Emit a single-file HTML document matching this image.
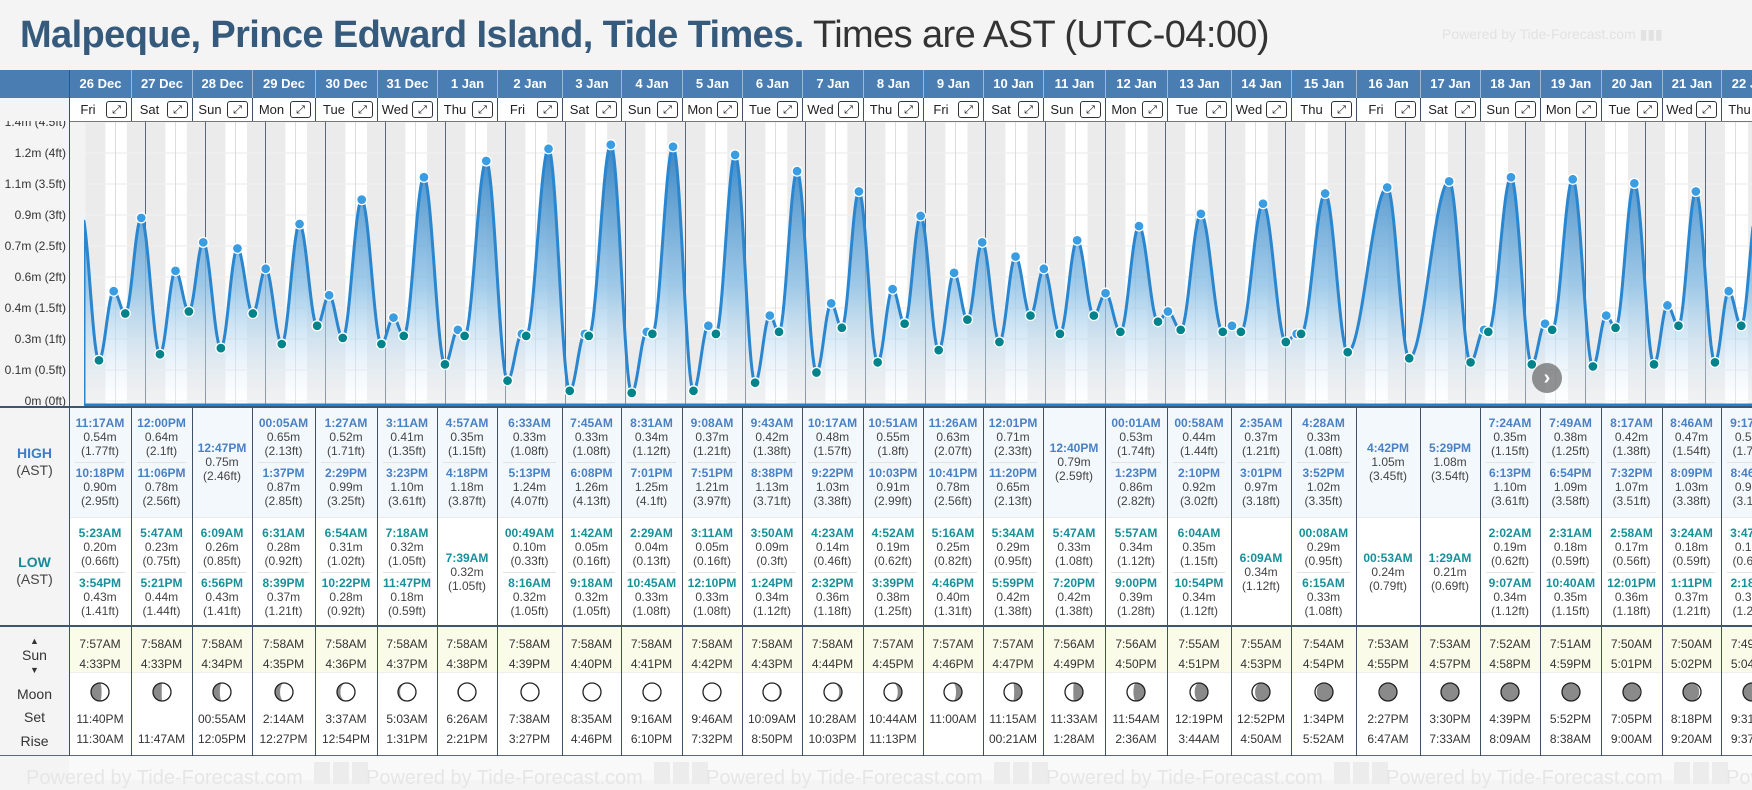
<!DOCTYPE html>
<html><head><meta charset="utf-8">
<style>
html,body{margin:0;padding:0;}
body{width:1752px;height:780px;overflow:hidden;background:#f4f4f4;font-family:"Liberation Sans",sans-serif;position:relative;}
.abs{position:absolute;}
.title{left:20px;top:14px;font-size:38px;white-space:nowrap;letter-spacing:-0.6px;}
.title b{color:#355a7c;}
.title span{color:#333;}
.cell{position:absolute;text-align:center;white-space:nowrap;}
.t{font-size:12px;font-weight:bold;line-height:14px;}
.v{font-size:12px;color:#444;line-height:14px;}
.hi{color:#4a80c4;}
.lo{color:#17909a;}
.sep{position:absolute;background:#3f5166;width:1px;}
</style></head>
<body>
<div class="abs title"><b>Malpeque, Prince Edward Island, Tide Times.</b> <span>Times are AST (UTC-04:00)</span></div>
<div class="abs" style="left:1442px;top:26px;font-size:14px;color:#e2e2e2;">Powered by Tide-Forecast.com ▮▮▮</div>
<svg id="chart" class="abs" style="left:0;top:0;" width="1752" height="410" viewBox="0 0 1752 410"></svg>
<div id="grid" class="abs" style="left:0;top:0;width:1752px;height:780px;"></div>
<script>
const days=['26 Dec','27 Dec','28 Dec','29 Dec','30 Dec','31 Dec','1 Jan','2 Jan','3 Jan','4 Jan','5 Jan','6 Jan','7 Jan','8 Jan','9 Jan','10 Jan','11 Jan','12 Jan','13 Jan','14 Jan','15 Jan','16 Jan','17 Jan','18 Jan','19 Jan','20 Jan','21 Jan','22 Jan'];
const dayNames=['Fri','Sat','Sun','Mon','Tue','Wed','Thu','Fri','Sat','Sun','Mon','Tue','Wed','Thu','Fri','Sat','Sun','Mon','Tue','Wed','Thu','Fri','Sat','Sun','Mon','Tue','Wed','Thu'];
const tideDay=[-1,0,0,0,0,1,1,1,1,2,2,2,3,3,3,3,4,4,4,4,5,5,5,5,6,6,6,7,7,7,7,8,8,8,8,9,9,9,9,10,10,10,10,11,11,11,11,12,12,12,12,13,13,13,13,14,14,14,14,15,15,15,15,16,16,16,17,17,17,17,18,18,18,18,19,19,19,20,20,20,20,21,21,22,22,23,23,23,23,24,24,24,24,25,25,25,25,26,26,26,26,27,27,27,27];
const tideTime=['10:15PM','5:23AM','11:17AM','3:54PM','10:18PM','5:47AM','12:00PM','5:21PM','11:06PM','6:09AM','12:47PM','6:56PM','00:05AM','6:31AM','1:37PM','8:39PM','1:27AM','6:54AM','2:29PM','10:22PM','3:11AM','7:18AM','3:23PM','11:47PM','4:57AM','7:39AM','4:18PM','00:49AM','6:33AM','8:16AM','5:13PM','1:42AM','7:45AM','9:18AM','6:08PM','2:29AM','8:31AM','10:45AM','7:01PM','3:11AM','9:08AM','12:10PM','7:51PM','3:50AM','9:43AM','1:24PM','8:38PM','4:23AM','10:17AM','2:32PM','9:22PM','4:52AM','10:51AM','3:39PM','10:03PM','5:16AM','11:26AM','4:46PM','10:41PM','5:34AM','12:01PM','5:59PM','11:20PM','5:47AM','12:40PM','7:20PM','00:01AM','5:57AM','1:23PM','9:00PM','00:58AM','6:04AM','2:10PM','10:54PM','2:35AM','6:09AM','3:01PM','00:08AM','4:28AM','6:15AM','3:52PM','00:53AM','4:42PM','1:29AM','5:29PM','2:02AM','7:24AM','9:07AM','6:13PM','2:31AM','7:49AM','10:40AM','6:54PM','2:58AM','8:17AM','12:01PM','7:32PM','3:24AM','8:46AM','1:11PM','8:09PM','3:47AM','9:17AM','2:18PM','8:46PM'];
const tideMeters=[0.93,0.20,0.54,0.43,0.90,0.23,0.64,0.44,0.78,0.26,0.75,0.43,0.65,0.28,0.87,0.37,0.52,0.31,0.99,0.28,0.41,0.32,1.10,0.18,0.35,0.32,1.18,0.10,0.33,0.32,1.24,0.05,0.33,0.32,1.26,0.04,0.34,0.33,1.25,0.05,0.37,0.33,1.21,0.09,0.42,0.34,1.13,0.14,0.48,0.36,1.03,0.19,0.55,0.38,0.91,0.25,0.63,0.40,0.78,0.29,0.71,0.42,0.65,0.33,0.79,0.42,0.53,0.34,0.86,0.39,0.44,0.35,0.92,0.34,0.37,0.34,0.97,0.29,0.33,0.33,1.02,0.24,1.05,0.21,1.08,0.19,0.35,0.34,1.10,0.18,0.38,0.35,1.09,0.17,0.42,0.36,1.07,0.18,0.47,0.37,1.03,0.19,0.54,0.37,0.96];
const tideFeet=[3.05,0.66,1.77,1.41,2.95,0.75,2.1,1.44,2.56,0.85,2.46,1.41,2.13,0.92,2.85,1.21,1.71,1.02,3.25,0.92,1.35,1.05,3.61,0.59,1.15,1.05,3.87,0.33,1.08,1.05,4.07,0.16,1.08,1.05,4.13,0.13,1.12,1.08,4.1,0.16,1.21,1.08,3.97,0.3,1.38,1.12,3.71,0.46,1.57,1.18,3.38,0.62,1.8,1.25,2.99,0.82,2.07,1.31,2.56,0.95,2.33,1.38,2.13,1.08,2.59,1.38,1.74,1.12,2.82,1.28,1.44,1.15,3.02,1.12,1.21,1.12,3.18,0.95,1.08,1.08,3.35,0.79,3.45,0.69,3.54,0.62,1.15,1.12,3.61,0.59,1.25,1.15,3.58,0.56,1.38,1.18,3.51,0.59,1.54,1.21,3.38,0.62,1.77,1.21,3.15];
const tideType=['H','L','H','L','H','L','H','L','H','L','H','L','H','L','H','L','H','L','H','L','H','L','H','L','H','L','H','L','H','L','H','L','H','L','H','L','H','L','H','L','H','L','H','L','H','L','H','L','H','L','H','L','H','L','H','L','H','L','H','L','H','L','H','L','H','L','H','L','H','L','H','L','H','L','H','L','H','L','H','L','H','L','H','L','H','L','H','L','H','L','H','L','H','L','H','L','H','L','H','L','H','L','H','L','H'];
const sunrise=['7:57AM','7:58AM','7:58AM','7:58AM','7:58AM','7:58AM','7:58AM','7:58AM','7:58AM','7:58AM','7:58AM','7:58AM','7:58AM','7:57AM','7:57AM','7:57AM','7:56AM','7:56AM','7:55AM','7:55AM','7:54AM','7:53AM','7:53AM','7:52AM','7:51AM','7:50AM','7:50AM','7:49AM'];
const sunset=['4:33PM','4:33PM','4:34PM','4:35PM','4:36PM','4:37PM','4:38PM','4:39PM','4:40PM','4:41PM','4:42PM','4:43PM','4:44PM','4:45PM','4:46PM','4:47PM','4:49PM','4:50PM','4:51PM','4:53PM','4:54PM','4:55PM','4:57PM','4:58PM','4:59PM','5:01PM','5:02PM','5:04PM'];
const moonSet=['11:40PM','','00:55AM','2:14AM','3:37AM','5:03AM','6:26AM','7:38AM','8:35AM','9:16AM','9:46AM','10:09AM','10:28AM','10:44AM','11:00AM','11:15AM','11:33AM','11:54AM','12:19PM','12:52PM','1:34PM','2:27PM','3:30PM','4:39PM','5:52PM','7:05PM','8:18PM','9:31PM'];
const moonRise=['11:30AM','11:47AM','12:05PM','12:27PM','12:54PM','1:31PM','2:21PM','3:27PM','4:46PM','6:10PM','7:32PM','8:50PM','10:03PM','11:13PM','','00:21AM','1:28AM','2:36AM','3:44AM','4:50AM','5:52AM','6:47AM','7:33AM','8:09AM','8:38AM','9:00AM','9:20AM','9:37AM'];
const yTicks=[0,0.5,1,1.5,2,2.5,3,3.5,4,4.5];
const yTickLabels=['0m (0ft)','0.1m (0.5ft)','0.3m (1ft)','0.4m (1.5ft)','0.6m (2ft)','0.7m (2.5ft)','0.9m (3ft)','1.1m (3.5ft)','1.2m (4ft)','1.4m (4.5ft)'];

// layout (not data)
const colB=[69,131,192,252,315,377,437,497,562,621,682,742,802,863,923,983,1043,1105,1167,1231,1291,1356,1420,1480,1540,1601,1662,1721,1782];
const X0=85.5, PXDAY=60, Y0=401, PXFT=62, PLOT_TOP=121, PLOT_BOT=405;
function hrs(s){const m=s.match(/(\d+):(\d+)(AM|PM)/);let h=+m[1]%12;if(m[3]==='PM')h+=12;return h+ +m[2]/60;}
function xOf(d){return X0+d*PXDAY;}
function yOfFt(f){return Y0-f*PXFT;}
function yOfM(m){return yOfFt(m/0.3048);}
const NS='http://www.w3.org/2000/svg';
const svg=document.getElementById('chart');
function mk(tag,attrs,parent){const e=document.createElementNS(NS,tag);for(const k in attrs)e.setAttribute(k,attrs[k]);(parent||svg).appendChild(e);return e;}

// defs
const defs=mk('defs',{});
const lg=mk('linearGradient',{id:'fillg',x1:0,y1:PLOT_TOP+20,x2:0,y2:PLOT_BOT,gradientUnits:'userSpaceOnUse'},defs);
mk('stop',{offset:'0','stop-color':'#2f7fc0','stop-opacity':'0.95'},lg);
mk('stop',{offset:'0.55','stop-color':'#8cc0e6','stop-opacity':'0.8'},lg);
mk('stop',{offset:'1','stop-color':'#ffffff','stop-opacity':'0.3'},lg);
const cp=mk('clipPath',{id:'plotclip'},defs);
mk('rect',{x:84,y:PLOT_TOP,width:1752-84,height:PLOT_BOT-PLOT_TOP},cp);

// plot background
const bg=mk('rect',{x:69,y:PLOT_TOP,width:1683,height:PLOT_BOT-PLOT_TOP+2,fill:'#f3f3f3'});


const night=mk('rect',{x:X0,y:PLOT_TOP,width:1752-X0,height:PLOT_BOT-PLOT_TOP,fill:'#ebebeb'});


for(let i=0;i<days.length;i++){
  const a=xOf(i+hrs(sunrise[i])/24), b=xOf(i+hrs(sunset[i])/24);
  const r=mk('rect',{x:a,y:PLOT_TOP,width:b-a,height:PLOT_BOT-PLOT_TOP,fill:'#ffffff'});
  
  
}
// horizontal grid
yTicks.forEach((f,i)=>{
  const y=yOfFt(f);
  if(y>PLOT_TOP){const l=mk('line',{x1:X0,x2:1752,y1:y,y2:y,stroke:'#f0f0f0','stroke-width':1.5});
  
  }
  const t=mk('text',{x:66,y:y+4,'text-anchor':'end','font-size':12,fill:'#333','font-family':'Liberation Sans, sans-serif'});
  t.textContent=yTickLabels[i];
  
  
});
// noon + midnight lines
for(let i=0;i<days.length;i++){
  const xn=xOf(i+0.5);
  if(xn<1752){const l=mk('line',{x1:xn,x2:xn,y1:PLOT_TOP,y2:PLOT_BOT,stroke:'#dcdcdc','stroke-width':1});
  
  }
  if(i>0){const xm=xOf(i);const l2=mk('line',{x1:xm,x2:xm,y1:PLOT_TOP,y2:PLOT_BOT,stroke:'#5a6878','stroke-width':1});
  
  }
}
// curve
const ev=tideTime.map((s,i)=>({t:tideDay[i]+hrs(s)/24,m:tideMeters[i],type:tideType[i],i}));
function hAt(t){
  for(let k=0;k<ev.length-1;k++){
    if(t>=ev[k].t&&t<=ev[k+1].t){const f=(t-ev[k].t)/(ev[k+1].t-ev[k].t);return ev[k].m+(ev[k+1].m-ev[k].m)*(1-Math.cos(Math.PI*f))/2;}
  }
  return ev[ev.length-1].m;
}
let pts=[];
for(let x=84;x<=1753;x+=1){const t=(x-X0)/PXDAY;pts.push([x,yOfM(hAt(t))]);}
const g=mk('g',{'clip-path':'url(#plotclip)'});
let dA='M84,'+PLOT_BOT+' '+pts.map(p=>'L'+p[0]+','+p[1].toFixed(1)).join(' ')+' L1753,'+PLOT_BOT+'Z';
const area=mk('path',{d:dA,fill:'url(#fillg)'},g);


const line=mk('path',{d:'M84,'+PLOT_BOT+' '+pts.map(p=>'L'+p[0]+','+p[1].toFixed(1)).join(' '),fill:'none',stroke:'#2a86cf','stroke-width':3,'stroke-linejoin':'round'},g);


ev.forEach(e=>{
  const x=xOf(e.t);if(x<84||x>1752)return;
  const c=mk('circle',{cx:x,cy:yOfM(e.m),r:5,fill:e.type==='H'?'#3a9de2':'#00838a',stroke:'#fff','stroke-width':1.3},g);
  
  
});
const base=mk('line',{x1:84,x2:1752,y1:PLOT_BOT,y2:PLOT_BOT,stroke:'#2d7dc3','stroke-width':3});


mk('line',{x1:69,x2:1752,y1:PLOT_TOP+0.5,y2:PLOT_TOP+0.5,stroke:'#777','stroke-width':1});

// ===== grid / table =====
const G=document.getElementById('grid');
function div(css,html,name,inter){const d=document.createElement('div');d.style.cssText='position:absolute;'+css;if(html!=null)d.innerHTML=html;


G.appendChild(d);return d;}
div('left:0;top:70px;width:1752px;height:28px;background:#4a7eb3;',null,'date-header-bar',false);
div('left:0;top:98px;width:1752px;height:23px;background:#fff;',null,'day-name-row',false);
div('left:0;top:98px;width:69px;height:23px;background:#f4f4f4;',null,'corner-cell',false);
div('left:0;top:408px;width:1752px;height:109px;background:#f3f8fd;',null,'high-row',false);
div('left:0;top:517px;width:1752px;height:109px;background:#fff;border-top:1px solid #eaeaea;',null,'low-row',false);
div('left:0;top:627px;width:1752px;height:45px;background:#fbfbea;',null,'sun-row',false);
div('left:0;top:672px;width:1752px;height:84px;background:#fff;border-top:1px solid #eee;',null,'moon-row',false);
div('left:0;top:756px;width:1752px;height:24px;background:#f9f9f9;',null,'footer',false);
div('left:0;top:408px;width:69px;height:348px;background:#f4f4f4;',null,'row-label-column',false);
div('left:0;top:756px;width:69px;height:24px;background:#f4f4f4;',null,'footer-left',false);
for(let k=0;k<6;k++){div('left:'+(26+k*340)+'px;top:762px;font-size:20px;color:#e6e6e6;white-space:nowrap;','Powered by Tide-Forecast.com <span style="display:inline-block;width:16px;height:22px;background:#ececec;margin-left:6px"></span><span style="display:inline-block;width:16px;height:22px;background:#ececec;margin-left:3px"></span><span style="display:inline-block;width:16px;height:22px;background:#ececec;margin-left:3px"></span>','footer-watermark',false);}
// horizontal separators
div('left:0;top:406px;width:1752px;height:2px;background:#3d5670;',null,'chart-table-divider',false);
div('left:0;top:625px;width:1752px;height:2px;background:#3d5670;',null,'tide-sun-divider',false);
div('left:0;top:755px;width:1752px;height:1px;background:#5a6a7a;',null,'table-bottom-border',false);
// row labels
div('left:0;top:445px;width:69px;text-align:center;font-size:14px;line-height:17px;','<b style="color:#3d7cc9">HIGH</b><br><span style="color:#444">(AST)</span>','high-label',false);
div('left:0;top:554px;width:69px;text-align:center;font-size:14px;line-height:17px;','<b style="color:#178a99">LOW</b><br><span style="color:#444">(AST)</span>','low-label',false);
div('left:0;top:634px;width:69px;text-align:center;font-size:14px;line-height:11px;color:#333;','<span style="font-size:9px">▲</span><br><span style="line-height:16px">Sun</span><br><span style="font-size:9px">▼</span>','sun-label',false);
div('left:0;top:684px;width:69px;text-align:center;font-size:14px;line-height:20px;color:#333;','Moon<br><span style="line-height:27px">Set</span><br>Rise','moon-label',false);

function moonSVG(i){
  const P=29.53, age=((i-23)%P+P)%P, th=2*Math.PI*age/P, r=9, rx=(r*Math.abs(Math.cos(th))).toFixed(2);
  let d;
  if(age<P/2){const sw=Math.cos(th)>0?0:1;d=`M0,${-r} A${r},${r} 0 0 0 0,${r} A${rx},${r} 0 0 ${sw} 0,${-r}Z`;}
  else{const sw=Math.cos(th)>0?1:0;d=`M0,${-r} A${r},${r} 0 0 1 0,${r} A${rx},${r} 0 0 ${sw} 0,${-r}Z`;}
  return `<svg width="24" height="24" viewBox="-12 -12 24 24"><circle r="${r}" fill="#fff"/><path d="${d}" fill="#8a8a8a"/><circle r="${r}" fill="none" stroke="#222" stroke-width="1.3"/></svg>`;
}
function entry(e){
  const cls=e.type==='H'?'hi':'lo';
  return `<div class="t ${cls}">${tideTime[e.i]}</div><div class="v">${tideMeters[e.i].toFixed(2)}m</div><div class="v">(${tideFeet[e.i]}ft)</div>`;
}
for(let i=0;i<days.length;i++){
  const L=colB[i], W=colB[i+1]-colB[i];
  div('left:'+L+'px;top:70px;width:'+W+'px;height:28px;line-height:28px;text-align:center;color:#fff;font-weight:bold;font-size:13px;border-left:1px solid #9bb8d6;box-sizing:border-box;',days[i],'date-header',false);
  div('left:'+L+'px;top:98px;width:'+W+'px;height:23px;line-height:23px;font-size:13px;color:#222;box-sizing:border-box;border-left:1px solid #3f5166;',
    '<span style="position:absolute;left:0;width:'+(W-26)+'px;text-align:center">'+dayNames[i]+'</span>','day-name',false);
  const b=div('left:'+(L+W-25)+'px;top:101px;width:19px;height:15px;border:1px solid #333;border-radius:3px;background:#fff;font-size:11px;line-height:15px;text-align:center;font-family:DejaVu Sans,sans-serif;color:#111;','⤢','expand-day-button',true);
  const cs=div('left:'+L+'px;top:408px;width:1px;height:348px;background:#3f5166;',null,'column-separator',false);
  const highs=ev.filter(e=>e.type==='H'&&tideDay[e.i]===i), lows=ev.filter(e=>e.type==='L'&&tideDay[e.i]===i);
  [[highs,408],[lows,518]].forEach(([arr,top])=>{
    if(arr.length===1){div('left:'+L+'px;top:'+(top+33)+'px;width:'+W+'px;',entry(arr[0]),arr[0].type==='H'?'high-tide-entry':'low-tide-entry',false).className='cell';}
    else if(arr.length>=2){
      div('left:'+L+'px;top:'+(top+8)+'px;width:'+W+'px;',entry(arr[0]),arr[0].type==='H'?'high-tide-entry':'low-tide-entry',false).className='cell';
      div('left:'+(L+6)+'px;top:'+(top+54)+'px;width:'+(W-12)+'px;height:1px;background:#e3e3e3;',null,'entry-divider',false);
      div('left:'+L+'px;top:'+(top+58)+'px;width:'+W+'px;',entry(arr[1]),arr[1].type==='H'?'high-tide-entry':'low-tide-entry',false).className='cell';
    }
  });
  const sr=div('left:'+L+'px;top:634px;width:'+W+'px;font-size:12px;line-height:20px;color:#333;',sunrise[i]+'<br>'+sunset[i],'sun-times',false);sr.className='cell';
  const mi=div('left:'+(L+W/2-12)+'px;top:680px;width:24px;height:24px;',moonSVG(i),'moon-phase-icon',false);
  const mt=div('left:'+L+'px;top:709px;width:'+W+'px;font-size:12px;line-height:20px;color:#333;',(moonSet[i]||'&nbsp;')+'<br>'+(moonRise[i]||'&nbsp;'),'moon-times',false);mt.className='cell';
}
div('left:69px;top:70px;width:1px;height:686px;background:#3f5166;',null,'left-column-border',false);
div('left:1532px;top:363px;width:30px;height:30px;border-radius:50%;background:rgba(110,110,110,0.75);color:#fff;font-size:20px;line-height:30px;text-align:center;font-weight:bold;','›','next-page-button',true);
</script>
</body></html>
